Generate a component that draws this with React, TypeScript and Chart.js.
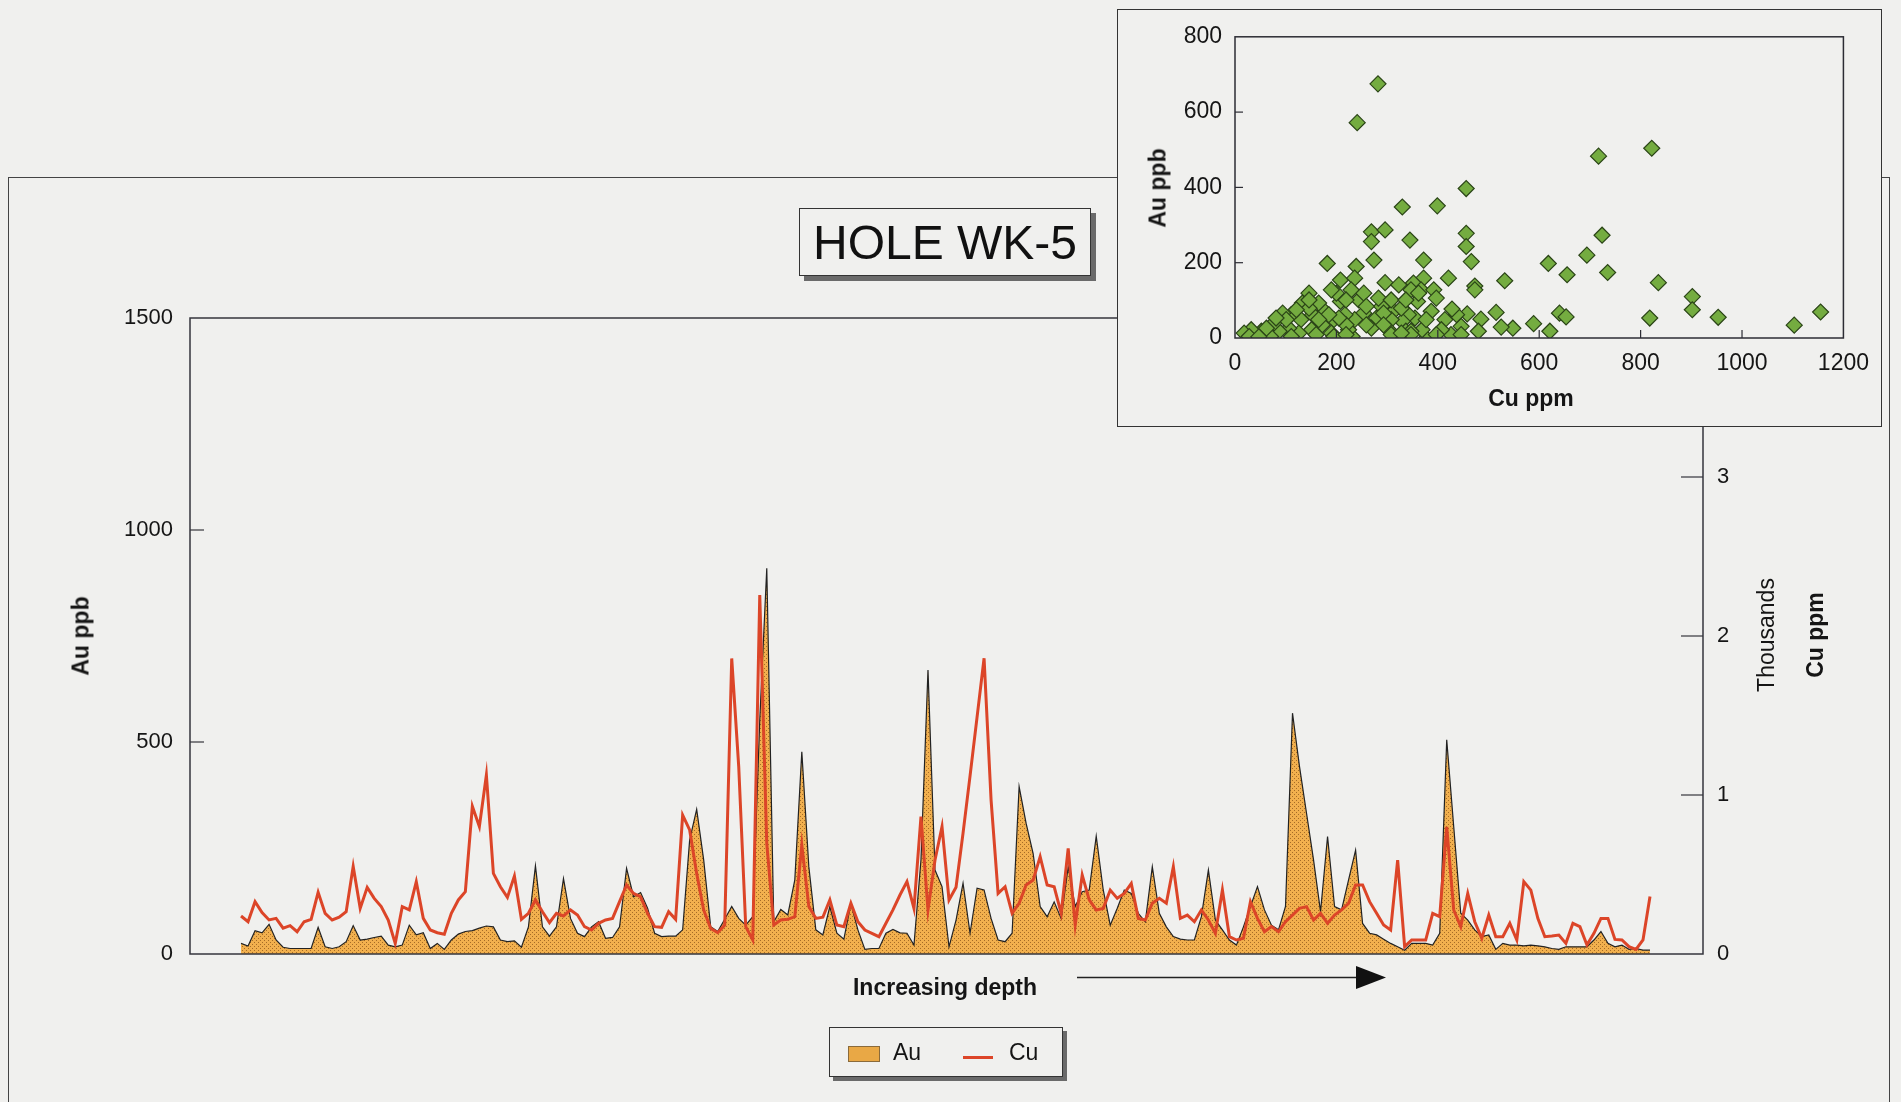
import React, { useEffect, useRef } from 'react';
import { Chart, registerables } from 'chart.js';

Chart.register(...registerables);

// ---- Main chart data (samples ordered by increasing depth) ----
const auPpb = [
  25, 19, 55, 50, 70, 33, 16, 13, 13, 13, 13, 63, 17, 13, 17, 29, 67, 33, 35, 39,
  42, 21, 17, 21, 68, 45, 50, 13, 25, 11, 33, 47, 53, 55, 61, 66, 64, 33, 29, 31,
  16, 64, 208, 64, 42, 64, 178, 84, 49, 41, 64, 76, 37, 39, 64, 202, 135, 145, 108, 49,
  41, 42, 42, 57, 269, 341, 222, 64, 53, 82, 112, 84, 68, 88, 552, 910, 76, 105, 92, 175,
  477, 206, 57, 45, 112, 49, 35, 119, 57, 11, 13, 13, 49, 58, 50, 49, 21, 222, 670, 198,
  159, 17, 80, 167, 49, 155, 151, 84, 33, 29, 49, 395, 308, 237, 112, 88, 123, 84, 206, 112,
  147, 151, 278, 151, 68, 108, 151, 143, 96, 76, 206, 96, 64, 41, 35, 33, 33, 88, 198, 80,
  57, 33, 21, 64, 112, 159, 104, 68, 57, 112, 568, 442, 332, 222, 100, 277, 112, 104, 175, 245,
  72, 49, 45, 35, 25, 17, 9, 25, 25, 25, 21, 49, 505, 300, 96, 80, 57, 41, 45, 11,
  25, 21, 21, 19, 21, 19, 17, 13, 11, 17, 17, 17, 17, 33, 53, 25, 17, 21, 11, 13,
  9, 9,
];

const cuPpm = [
  239, 203, 329, 260, 214, 224, 162, 178, 140, 203, 218, 388, 255, 214, 231, 266, 551, 287, 419, 350,
  298, 214, 67, 298, 277, 455, 224, 151, 134, 124, 256, 340, 392, 929, 801, 1126, 507, 423, 356, 490,
  218, 256, 340, 266, 197, 256, 239, 277, 245, 172, 151, 193, 214, 224, 329, 434, 381, 360, 256, 172,
  168, 266, 218, 874, 780, 507, 277, 161, 134, 182, 1859, 1178, 172, 88, 2257, 696, 182, 214, 218, 235,
  685, 298, 224, 231, 340, 182, 172, 319, 203, 151, 130, 109, 193, 277, 371, 455, 287, 864, 277, 591,
  801, 340, 420, 760, 1120, 1490, 1860, 968, 381, 423, 256, 319, 434, 465, 612, 434, 423, 256, 664, 182,
  497, 340, 277, 287, 402, 350, 381, 444, 224, 214, 319, 350, 319, 549, 224, 245, 203, 277, 214, 130,
  402, 109, 88, 99, 329, 224, 140, 172, 140, 203, 245, 287, 298, 214, 256, 193, 245, 277, 319, 434,
  434, 329, 256, 182, 151, 591, 46, 88, 88, 88, 256, 235, 800, 277, 172, 381, 203, 99, 245, 109,
  109, 193, 88, 455, 402, 224, 109, 113, 119, 67, 193, 172, 57, 130, 224, 224, 92, 88, 46, 29,
  88, 361,
];

const leftTicks = [0, 500, 1000, 1500];
const rightTicksThousands = [0, 1, 2, 3, 4];

// ---- Inset scatter data ----
const scatterCu = [
  282, 241, 717, 822, 456, 330, 399, 269, 296, 269, 345, 456, 456, 724, 274, 372, 182, 239, 466, 618,
  694, 735, 655, 208, 236, 372, 421, 532, 835, 296, 323, 473, 473, 352, 367, 392, 902, 902, 953, 818,
  1103, 1155, 640, 653, 589, 621, 548, 525, 515, 485, 480, 458, 446, 437, 428, 414, 397, 387, 377, 369,
  360, 355, 342, 330, 337, 313, 308, 303, 289, 279, 269, 254, 244, 236, 231, 224, 217, 208, 200, 195,
  190, 177, 172, 165, 153, 151, 146, 133, 130, 126, 111, 106, 94, 87, 77, 70, 52, 32, 18, 28,
  111, 160, 195, 347, 347, 308, 426, 407, 446, 397, 377, 328, 293, 259, 219, 205, 185, 165, 146, 121,
  101, 81, 62, 47, 254, 283, 308, 229, 190, 146, 347, 362, 337, 219, 259, 293, 219, 328,
];
const scatterAu = [
  675, 572, 483, 504, 397, 348, 351, 282, 287, 256, 260, 278, 243, 273, 207, 207, 198, 190, 203, 198,
  220, 174, 168, 154, 159, 159, 159, 152, 147, 147, 141, 138, 128, 146, 128, 128, 110, 75, 55, 53,
  34, 69, 66, 56, 38, 18, 26, 29, 68, 50, 18, 64, 31, 62, 77, 49, 106, 71, 0, 22,
  97, 53, 62, 44, 18, 71, 49, 22, 84, 53, 26, 66, 101, 49, 4, 22, 62, 97, 119, 49,
  13, 71, 35, 93, 62, 22, 119, 93, 49, 13, 62, 26, 66, 18, 40, 4, 18, 22, 13, 4,
  4, 9, 4, 18, 9, 9, 9, 22, 9, 9, 49, 79, 66, 35, 35, 53, 62, 49, 79, 75,
  49, 53, 26, 3, 119, 106, 101, 128, 128, 101, 128, 119, 101, 101, 84, 35, 9, 13,
];
const insetXTicks = [0, 200, 400, 600, 800, 1000, 1200];
const insetYTicks = [0, 200, 400, 600, 800];

const FONT = "'Liberation Sans', Arial, sans-serif";
const BG = '#F0F0EE';
const RED = '#DC4528';
const TEXT = '#151515';

function makeInnerTicksPlugin(id: string) {
  return {
    id,
    afterDraw(chart: any, _args: any, opts: any) {
      const { ctx, chartArea } = chart;
      ctx.save();
      ctx.strokeStyle = opts.color || '#333';
      ctx.lineWidth = opts.lineWidth || 1.5;
      ctx.strokeRect(chartArea.left, chartArea.top, chartArea.right - chartArea.left, chartArea.bottom - chartArea.top);
      ctx.lineWidth = 1.2;
      (opts.marks || []).forEach((m: any) => {
        const scale = chart.scales[m.scale];
        m.values.forEach((v: number) => {
          const p = scale.getPixelForValue(v);
          ctx.beginPath();
          if (m.side === 'left') {
            ctx.moveTo(chartArea.left, p);
            ctx.lineTo(chartArea.left + m.len, p);
          } else if (m.side === 'right') {
            ctx.moveTo(chartArea.right - m.len, p);
            ctx.lineTo(chartArea.right, p);
          } else {
            ctx.moveTo(p, chartArea.bottom);
            ctx.lineTo(p, chartArea.bottom - m.len);
          }
          ctx.stroke();
        });
      });
      ctx.restore();
    },
  };
}

function rotated(text: string, cx: number, cy: number, weight: string, size: number) {
  return (
    <div
      style={{
        position: 'absolute',
        left: cx,
        top: cy,
        transform: 'translate(-50%, -50%) rotate(-90deg)',
        whiteSpace: 'nowrap',
        font: `${weight} ${size}px ${FONT}`,
        color: TEXT,
        lineHeight: 1,
      }}
    >
      {text}
    </div>
  );
}

export default function App() {
  const mainRef = useRef<HTMLCanvasElement | null>(null);
  const insetRef = useRef<HTMLCanvasElement | null>(null);

  useEffect(() => {
    document.body.style.margin = '0';
    document.body.style.background = BG;

    // fill pattern for Au area (dotted orange)
    const pc = document.createElement('canvas');
    pc.width = 4;
    pc.height = 4;
    const pg = pc.getContext('2d')!;
    pg.fillStyle = '#F2B04E';
    pg.fillRect(0, 0, 4, 4);
    pg.fillStyle = '#A66C26';
    pg.fillRect(0, 0, 1, 1);
    pg.fillRect(2, 2, 1, 1);
    const mctx = mainRef.current!.getContext('2d')!;
    const pattern = mctx.createPattern(pc, 'repeat');

    const tickFont = { family: FONT, size: 22 };
    const plain = (v: any) => String(v);

    const main = new Chart(mainRef.current!, {
      type: 'line',
      data: {
        datasets: [
          {
            label: 'Cu',
            data: cuPpm.map((v, i) => ({ x: i, y: v })),
            yAxisID: 'y2',
            borderColor: RED,
            borderWidth: 3,
            pointRadius: 0,
            fill: false,
            tension: 0,
          },
          {
            label: 'Au',
            data: auPpb.map((v, i) => ({ x: i, y: v })),
            yAxisID: 'y',
            borderColor: '#222222',
            borderWidth: 1.2,
            backgroundColor: pattern as any,
            fill: 'origin',
            pointRadius: 0,
            tension: 0,
          },
        ],
      },
      options: {
        animation: false,
        responsive: false,
        maintainAspectRatio: false,
        layout: { padding: { top: 318, bottom: 148, left: 0, right: 0 } },
        plugins: {
          legend: { display: false },
          tooltip: { enabled: false },
          mainTicks: {
            color: '#34343c',
            lineWidth: 1.5,
            marks: [
              { scale: 'y', side: 'left', len: 14, values: [500, 1000] },
              { scale: 'y2', side: 'right', len: 22, values: [1000, 2000, 3000] },
            ],
          },
        } as any,
        scales: {
          x: { type: 'linear', min: -7.28, max: 208.56, display: false },
          y: {
            position: 'left',
            min: 0,
            max: 1500,
            afterBuildTicks: (s: any) => {
              s.ticks = leftTicks.map((v) => ({ value: v }));
            },
            afterFit: (s: any) => {
              s.width = 190;
            },
            grid: { display: false, drawTicks: false },
            border: { display: false },
            ticks: { font: tickFont, color: TEXT, padding: 17, callback: plain },
          },
          y2: {
            position: 'right',
            min: 0,
            max: 4000,
            afterBuildTicks: (s: any) => {
              s.ticks = rightTicksThousands.map((v) => ({ value: v * 1000 }));
            },
            afterFit: (s: any) => {
              s.width = 198;
            },
            grid: { display: false, drawTicks: false },
            border: { display: false },
            ticks: {
              font: tickFont,
              color: TEXT,
              padding: 14,
              callback: (v: any) => String(Number(v) / 1000),
            },
          },
        },
      },
      plugins: [makeInnerTicksPlugin('mainTicks')],
    });

    const inset = new Chart(insetRef.current!, {
      type: 'scatter',
      data: {
        datasets: [
          {
            label: 'Au vs Cu',
            data: scatterCu.map((c, i) => ({ x: c, y: scatterAu[i] })),
            pointStyle: 'rectRot',
            pointRadius: 8,
            backgroundColor: '#74AC40',
            borderColor: '#2B4517',
            borderWidth: 1.2,
          },
        ],
      },
      options: {
        animation: false,
        responsive: false,
        maintainAspectRatio: false,
        layout: { padding: { top: 26, right: 31, left: 0, bottom: 0 } },
        plugins: {
          legend: { display: false },
          tooltip: { enabled: false },
          insetTicks: {
            color: '#2c2c34',
            lineWidth: 1.5,
            marks: [
              { scale: 'y', side: 'left', len: 8, values: [200, 400, 600] },
              { scale: 'x', side: 'bottom', len: 8, values: [200, 400, 600, 800, 1000] },
            ],
          },
        } as any,
        scales: {
          x: {
            type: 'linear',
            min: 0,
            max: 1200,
            afterBuildTicks: (s: any) => {
              s.ticks = insetXTicks.map((v) => ({ value: v }));
            },
            afterFit: (s: any) => {
              s.height = 88;
            },
            grid: { display: false, drawTicks: false },
            border: { display: false },
            ticks: { font: { family: FONT, size: 23 }, color: TEXT, padding: 12, maxRotation: 0, callback: plain },
          },
          y: {
            min: 0,
            max: 800,
            afterBuildTicks: (s: any) => {
              s.ticks = insetYTicks.map((v) => ({ value: v }));
            },
            afterFit: (s: any) => {
              s.width = 117;
            },
            grid: { display: false, drawTicks: false },
            border: { display: false },
            ticks: { font: { family: FONT, size: 23 }, color: TEXT, padding: 13, callback: plain },
          },
        },
      },
      plugins: [makeInnerTicksPlugin('insetTicks')],
    });

    return () => {
      main.destroy();
      inset.destroy();
    };
  }, []);

  return (
    <div
      style={{
        position: 'fixed',
        left: 0,
        top: 0,
        width: 1901,
        height: 1102,
        overflow: 'hidden',
        background: BG,
        fontFamily: FONT,
      }}
    >
      {/* outer frame of the main figure */}
      <div
        style={{
          position: 'absolute',
          left: 8,
          top: 177,
          width: 1880,
          height: 1000,
          border: '1.5px solid #444',
        }}
      />
      <canvas
        ref={mainRef}
        width={1901}
        height={1102}
        style={{ position: 'absolute', left: 0, top: 0, width: 1901, height: 1102 }}
      />

      {/* title box */}
      <div
        style={{
          position: 'absolute',
          left: 799,
          top: 208,
          width: 290,
          height: 66,
          border: '1.5px solid #333',
          boxShadow: '5px 5px 0 #6a6a6a',
          background: BG,
          display: 'flex',
          alignItems: 'center',
          justifyContent: 'center',
          font: `48px ${FONT}`,
          color: '#111',
          whiteSpace: 'nowrap',
        }}
      >
        HOLE WK-5
      </div>

      {rotated('Au ppb', 81, 636, 'bold', 23)}
      {rotated('Thousands', 1766, 635, 'normal', 23)}
      {rotated('Cu ppm', 1815, 635, 'bold', 23)}

      {/* x axis caption with arrow */}
      <div
        style={{
          position: 'absolute',
          left: 945,
          top: 987,
          transform: 'translate(-50%, -50%)',
          font: `bold 23px ${FONT}`,
          color: TEXT,
          whiteSpace: 'nowrap',
        }}
      >
        Increasing depth
      </div>
      <svg
        style={{ position: 'absolute', left: 1070, top: 960, overflow: 'visible' }}
        width={330}
        height={40}
      >
        <line x1={7} y1={17.5} x2={290} y2={17.5} stroke="#222" strokeWidth={1.6} />
        <polygon points="286,6 316,17.5 286,29" fill="#111" />
      </svg>

      {/* legend */}
      <div
        style={{
          position: 'absolute',
          left: 829,
          top: 1027,
          width: 232,
          height: 48,
          border: '1.5px solid #333',
          boxShadow: '4px 4px 0 #6a6a6a',
          background: BG,
        }}
      >
        <div
          style={{
            position: 'absolute',
            left: 18,
            top: 18,
            width: 30,
            height: 14,
            background: '#E9A845',
            border: '1px solid #8a6a3a',
          }}
        />
        <div style={{ position: 'absolute', left: 63, top: 11, font: `23px ${FONT}`, color: TEXT }}>Au</div>
        <div
          style={{
            position: 'absolute',
            left: 133,
            top: 28,
            width: 30,
            height: 3,
            background: RED,
          }}
        />
        <div style={{ position: 'absolute', left: 179, top: 11, font: `23px ${FONT}`, color: TEXT }}>Cu</div>
      </div>

      {/* inset scatter plot */}
      <div
        style={{
          position: 'absolute',
          left: 1117,
          top: 9,
          width: 763,
          height: 416,
          border: '1px solid #333',
          background: BG,
        }}
      >
        <canvas
          ref={insetRef}
          width={763}
          height={416}
          style={{ position: 'absolute', left: 0, top: 0, width: 763, height: 416 }}
        />
        {rotated('Au ppb', 40, 178, 'bold', 23)}
        <div
          style={{
            position: 'absolute',
            left: 413,
            top: 388,
            transform: 'translate(-50%, -50%)',
            font: `bold 23px ${FONT}`,
            color: TEXT,
            whiteSpace: 'nowrap',
          }}
        >
          Cu ppm
        </div>
      </div>
    </div>
  );
}
